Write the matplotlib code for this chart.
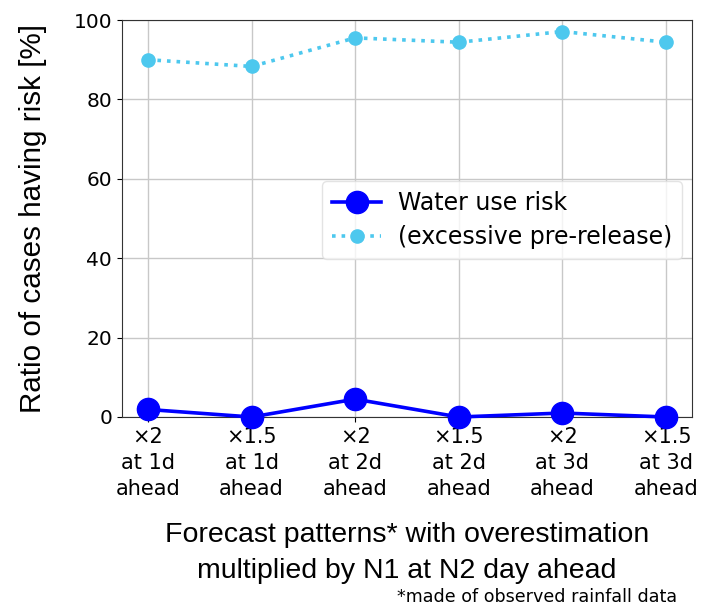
import matplotlib
matplotlib.use("Agg")
import matplotlib.pyplot as plt

categories = ["×2\nat 1d\nahead", "×1.5\nat 1d\nahead", "×2\nat 2d\nahead",
              "×1.5\nat 2d\nahead", "×2\nat 3d\nahead", "×1.5\nat 3d\nahead"]
water_use_risk = [1.9, 0.0, 4.5, 0.0, 1.0, 0.0]
excessive_prerelease = [90.0, 88.3, 95.5, 94.4, 97.1, 94.4]
y_ticks = [0, 20, 40, 60, 80, 100]

fig = plt.figure(figsize=(7.05, 6.10), dpi=100)
ax = fig.add_axes([0.173, 0.3164, 0.8085, 0.6508])

x = list(range(len(categories)))
ax.plot(x, water_use_risk, color="#0000FF", linestyle="-", linewidth=2.6,
        marker="o", markersize=16, label="Water use risk", zorder=3, clip_on=False)
ax.plot(x, excessive_prerelease, color="#4DC8EE", linestyle=":", linewidth=2.6,
        marker="o", markersize=9.5, label="(excessive pre-release)", zorder=3, clip_on=False)

ax.set_xlim(-0.25, 5.25)
ax.set_ylim(0, 100)
ax.set_yticks(y_ticks)
ax.set_xticks(x)
ax.set_xticklabels(categories, fontsize=15, family="DejaVu Sans", linespacing=1.38)
ax.tick_params(axis="y", labelsize=14.5)
ax.grid(True, color="#c8c8c8", linewidth=1)
ax.set_axisbelow(True)
for s in ax.spines.values():
    s.set_color("#333333")

ax.set_ylabel("Ratio of cases having risk [%]", fontsize=21.3, family="Liberation Sans", labelpad=19)
ax.set_xlabel("Forecast patterns* with overestimation\nmultiplied by N1 at N2 day ahead",
              fontsize=20.5, family="Liberation Sans", labelpad=16.5, linespacing=1.49)

ax.legend(loc="center right", bbox_to_anchor=(1.0, 0.496), fontsize=17,
          framealpha=0.8, edgecolor="#dddddd", handlelength=2.1, labelspacing=0.45,
          handletextpad=0.72, borderaxespad=0.42)

fig.text(0.960, 0.013, "*made of observed rainfall data", ha="right", va="baseline",
         fontsize=12.6, family="DejaVu Sans")

fig.savefig("out.png", dpi=100)
